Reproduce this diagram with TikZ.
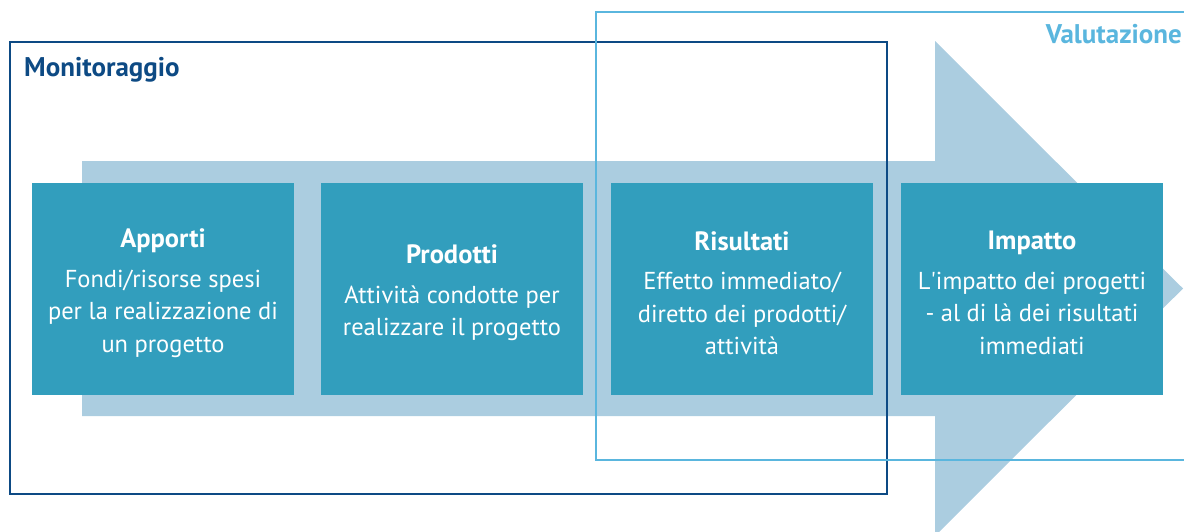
\documentclass[tikz,border=0pt]{standalone}
\usepackage{fontspec}
\setmainfont{PT Sans}
\definecolor{arrowblue}{HTML}{ABCDE0}
\definecolor{boxteal}{HTML}{329EBD}
\definecolor{monnavy}{HTML}{0D4A84}
\definecolor{valblue}{HTML}{5AB6DE}
\newcommand{\stagehead}[1]{{\fontsize{26.5}{32}\selectfont\bfseries #1}\\[7pt]}

\tikzset{
  stage/.style={fill=boxteal,minimum width=262pt,minimum height=212pt,inner sep=0pt},
  stagetext/.style={text=white,inner sep=0pt,align=center,yshift=-4pt,
    font=\fontsize{24.5}{32.5}\selectfont},
  frametitle/.style={font=\fontsize{27}{30}\selectfont\bfseries,inner sep=0pt}
}

\begin{document}
\begin{tikzpicture}[x=1pt,y=-1pt]
\useasboundingbox (0,0) rectangle (1184,531);

% big arrow in the background
\fill[arrowblue] (82,161) -- (935,161) -- (935,41) -- (1183,288.5)
  -- (935,536) -- (935,416) -- (82,416) -- cycle;

% the four stages
\node[stage] (apporti)   at (163,289) {};
\node[stage] (prodotti)  at (452,289) {};
\node[stage] (risultati) at (742,289) {};
\node[stage] (impatto)   at (1032,289) {};
\node[stagetext] at (apporti)   {\stagehead{Apporti} Fondi/risorse spesi\\ per la realizzazione di\\ un progetto};
\node[stagetext] at (prodotti)  {\stagehead{Prodotti} Attività condotte per\\ realizzare il progetto};
\node[stagetext] at (risultati) {\stagehead{Risultati} Effetto immediato/\\ diretto dei prodotti/\\ attività};
\node[stagetext] at (impatto)   {\stagehead{Impatto} L\textquotesingle impatto dei progetti\\ - al di là dei risultati\\ immediati};

% frames
\draw[monnavy,line width=2.2pt] (10,42) rectangle (887,494);
\node[frametitle,text=monnavy,anchor=base west] (monitoraggio) at (24,76) {Monitoraggio};
\draw[valblue,line width=2.2pt] (596,12) rectangle (1200,460);
\node[frametitle,text=valblue,anchor=base east] (valutazione) at (1182,43) {Valutazione};
\end{tikzpicture}
\end{document}
